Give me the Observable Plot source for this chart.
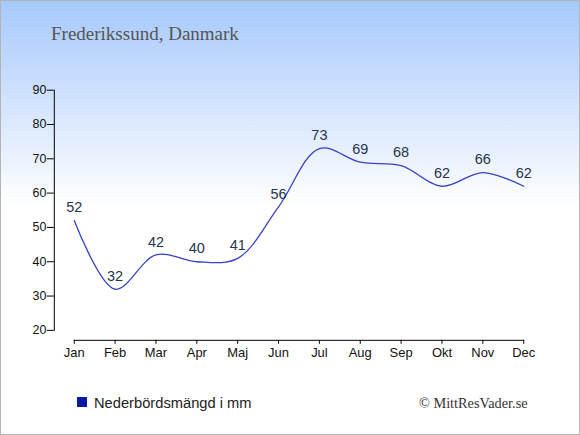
<!DOCTYPE html>
<html>
<head>
<meta charset="utf-8">
<script src="https://cdn.jsdelivr.net/npm/d3@7"></script>
<script src="https://cdn.jsdelivr.net/npm/@observablehq/plot@0.6"></script>
<style>
  html, body { margin: 0; padding: 0; background: #fff; }
  #chart {
    position: relative; width: 580px; height: 435px; box-sizing: border-box;
    border: 1px solid #b4b4b4; overflow: hidden;
    background: linear-gradient(to bottom, #a6c9fd 0px, #d6e5fd 110px, #ffffff 205px, #ffffff 435px);
  }
  #chart svg { position: absolute; left: -1px; top: -1px; }
  .t { position: absolute; white-space: nowrap; line-height: 1; }
  #title { left: 50px; top: 22px; font: 19px "Liberation Serif", "Times New Roman", serif; color: #555; }
  #legend { left: 76px; top: 394px; font: 14.7px "Liberation Sans", Arial, sans-serif; color: #222; }
  #legend .sw { position: absolute; left: 0; top: 2px; width: 10px; height: 10px; background: #0a18a8; }
  #legend .lb { position: absolute; left: 17px; top: 0; }
  #copy { left: 418px; top: 394px; font: 14.3px "Liberation Serif", "Times New Roman", serif; color: #333; }
</style>
</head>
<body>
<div id="chart">
  <div class="t" id="title">Frederikssund, Danmark</div>
  <div class="t" id="legend"><span class="sw"></span><span class="lb">Nederbördsmängd i mm</span></div>
  <div class="t" id="copy">© MittResVader.se</div>
</div>
<script>
const months = ["Jan","Feb","Mar","Apr","Maj","Jun","Jul","Aug","Sep","Okt","Nov","Dec"];
const precipitation = [52, 32, 42, 40, 41, 56, 73, 69, 68, 62, 66, 62];
const yTicks = [20, 30, 40, 50, 60, 70, 80, 90];

const data = months.map((m, i) => ({month: m, value: precipitation[i]}));

const plot = Plot.plot({
  width: 580,
  height: 435,
  marginTop: 90,
  marginBottom: 94,
  marginLeft: 54,
  marginRight: 55,
  style: {background: "transparent", fontFamily: "'Liberation Sans', Arial, sans-serif", color: "#111"},
  x: {type: "point", domain: months, padding: 0, insetLeft: 20, axis: null},
  y: {domain: [20, 90], insetBottom: 10, axis: null},
  marks: [
    Plot.frame({anchor: "left", insetBottom: 10, stroke: "#000"}),
    Plot.frame({anchor: "bottom", insetLeft: 20, stroke: "#000"}),
    Plot.axisY({ticks: yTicks, tickSize: 7, tickPadding: 1, fontSize: 12.5, tickFormat: d => d, label: null, fill: "#111", stroke: "#000", strokeOpacity: 1}),
    Plot.axisX({tickSize: 4, tickPadding: 3, fontSize: 13, label: null, fill: "#111", stroke: "#000", strokeOpacity: 1}),
    Plot.line(data, {x: "month", y: "value", curve: "catmull-rom", stroke: "#3542c6", strokeWidth: 1.3}),
    Plot.text(data, {x: "month", y: "value", text: d => String(d.value), dy: -13, fontSize: 14.5, fill: "#25344f"})
  ]
});
document.getElementById("chart").appendChild(plot);
</script>
</body>
</html>
